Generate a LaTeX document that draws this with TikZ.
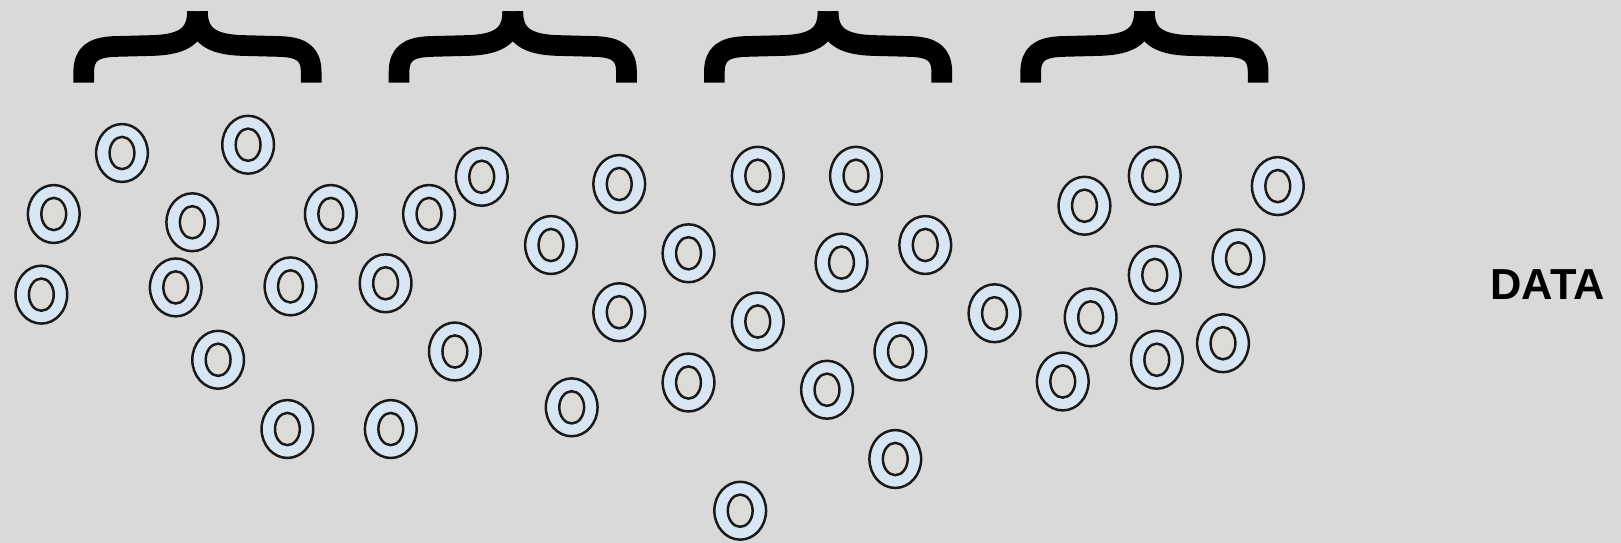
\documentclass[tikz,border=0pt]{standalone}
\usepackage{fontspec}
\setmainfont{Liberation Sans}
\usetikzlibrary{shapes.geometric}
\definecolor{bg}{HTML}{D9D9D9}
\definecolor{ringfill}{HTML}{D8E5F3}
\definecolor{holefill}{HTML}{DDDBD8}
\tikzset{
  ring/.style={ellipse, draw=black!90, line width=1.2pt, fill=ringfill,
    minimum width=25pt, minimum height=28pt, inner sep=0pt},
  hole/.style={draw=black!90, line width=1.2pt, fill=holefill},
  bracestroke/.style={line width=10pt, line cap=butt, line join=round, black}
}
\begin{document}
\begin{tikzpicture}[x=0.5pt, y=-0.5pt]
\fill[bg] (0,0) rectangle (1568,525);
\useasboundingbox (0,0) rectangle (1568,525);
% braces
\foreach \dx in {0,305,610,916}{
  \begin{scope}[xshift=\dx*0.5pt]
  \draw[bracestroke] (81,80) -- (81,70) .. controls (81,52) and (90,46) .. (110,45)
     -- (148,44) .. controls (178,43) and (191,34) .. (191,11);
  \draw[bracestroke] (301,80) -- (301,70) .. controls (301,52) and (292,46) .. (272,45)
     -- (234,44) .. controls (204,43) and (191,34) .. (191,11);
  \end{scope}
}
% rings
\foreach \x/\y [count=\i] in {
 118/148, 240/140, 52/207, 186/215, 320/207, 415/207, 466/171, 40/285, 170/278,
 281/277, 373/274, 211/348, 440/340, 278/415, 378/415,
 533/237, 599/178, 733/170, 828/170, 666/245, 814/254, 895/237, 599/302, 733/311,
 962/303, 871/340, 666/370, 800/377, 553/394, 866/444, 716/494,
 1049/199, 1117/170, 1236/180, 1117/266, 1198/250, 1055/307, 1119/348, 1183/332, 1028/369}{
  \node[ring] (c\i) at (\x,\y) {};
  \draw[hole] (c\i.center) ellipse [x radius=6pt, y radius=7.8pt];
}
\node[font=\bfseries\fontsize{21}{25}\selectfont] (data) at (1497,275) {DATA};
\end{tikzpicture}
\end{document}
